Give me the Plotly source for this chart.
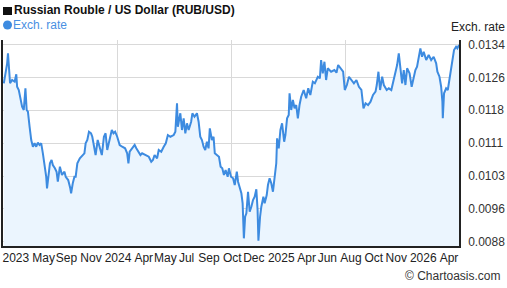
import pandas as pd
import plotly.graph_objects as go

start_date = "2023-04-14"
end_day = 1098

days = [2,10,12,14,17,22,28,32,34,38,41,46,50,54,57,60,64,68,72,76,80,84,88,92,96,100,104,106,109,113,
        117,120,125,129,132,137,142,148,151,157,162,164,168,172,175,179,185,191,196,199,203,207,212,215,219,223,228,233,238,243,
        247,251,255,262,266,270,275,281,287,294,299,302,305,311,317,321,327,331,335,343,351,357,361,365,371,375,381,
        387,392,397,403,411,415,419,421,427,431,435,439,443,447,453,456,461,467,471,475,479,483,487,491,495,498,503,507,
        510,514,520,524,528,532,536,541,544,549,554,558,563,566,570,574,577,580,583,586,590,594,598,602,606,610,613,615,
        619,622,627,630,635,638,642,646,650,654,658,660,664,668,672,677,680,684,688,690,694,698,702,706,710,714,718,
        724,730,735,740,746,751,758,763,766,770,774,778,782,790,798,803,807,814,819,823,828,833,839,845,851,857,863,
        868,873,879,885,891,897,900,904,908,913,917,924,929,935,940,945,949,953,957,961,965,969,973,979,984,988,993,
        997,1001,1005,1009,1013,1019,1025,1031,1037,1043,1046,1051,1055,1058,1059,1062,1067,1071,1075,1079,1083,1086,1091,1094,1098]

rates = [0.012494,0.01296,0.013193,0.012967,0.012494,0.012571,0.012531,0.012703,0.012414,0.012338,0.012181,0.011948,0.011872,0.012377,0.011872,0.011832,0.011482,0.011173,0.011016,0.011096,0.011016,0.01111,0.011056,0.011096,0.010863,0.01063,0.010317,0.010047,0.010317,0.01063,
         0.010707,0.01059,0.010513,0.010434,0.010201,0.01055,0.010357,0.010434,0.010317,0.01024,0.010047,0.009931,0.010164,0.010317,0.010317,0.01063,0.010746,0.010823,0.010863,0.011096,0.011173,0.011366,0.011329,0.011249,0.011016,0.010823,0.011173,0.010979,0.010823,0.011249,
         0.011329,0.01094,0.011096,0.011406,0.011329,0.011366,0.011249,0.011056,0.011016,0.010979,0.010863,0.01063,0.0109,0.010979,0.011056,0.010979,0.0109,0.010823,0.010863,0.010823,0.010783,0.010667,0.010707,0.010823,0.010746,0.01094,0.0109,
         0.011016,0.011096,0.011289,0.011249,0.011289,0.011366,0.012028,0.011482,0.011795,0.011406,0.011678,0.011329,0.011562,0.011406,0.011599,0.011795,0.011715,0.011795,0.011599,0.011249,0.011173,0.011016,0.01094,0.011133,0.010979,0.011445,0.011173,0.011249,
         0.010863,0.010823,0.010783,0.01055,0.010513,0.010357,0.010474,0.010317,0.010513,0.010317,0.01028,0.010124,0.010434,0.010201,0.010047,0.009931,0.009698,0.008882,0.009385,0.009465,0.009968,0.009502,0.009618,0.009775,0.009851,0.010024,0.009542,0.008826,
         0.009385,0.009618,0.009851,0.009698,0.009891,0.010124,0.01028,0.010164,0.009968,0.010357,0.01063,0.011212,0.010979,0.011406,0.011562,0.011133,0.011289,0.011678,0.011755,0.012261,0.011872,0.012105,0.011911,0.011988,0.011678,0.011988,0.012181,
         0.012338,0.012144,0.012377,0.012221,0.012531,0.012494,0.012647,0.01261,0.013037,0.012727,0.012997,0.012571,0.012843,0.012764,0.012804,0.012741,0.01292,0.012843,0.012764,0.012338,0.012454,0.012647,0.012571,0.012494,0.012571,0.012414,0.012338,
         0.011911,0.012028,0.011988,0.012065,0.012221,0.012298,0.012454,0.012764,0.012338,0.012647,0.012454,0.012338,0.012377,0.012338,0.012571,0.012804,0.01292,0.013193,0.012843,0.012494,0.012804,0.012454,0.012843,0.012727,0.012414,0.012571,0.012804,
         0.01288,0.013113,0.013309,0.013113,0.01323,0.013037,0.013153,0.013037,0.013113,0.01296,0.012764,0.012647,0.012414,0.012065,0.011678,0.012261,0.012377,0.012338,0.012571,0.01288,0.013113,0.01327,0.013346,0.013309,0.013386]

tick_days = [31,98,153,212,277,339,391,442,496,552,604,670,731,781,838,893,947,1012,1074]
tick_labels = ["2023","May","Sep","Nov","2024","Apr","May","Jul","Sep","Oct","Dec","2025","Apr","Jun","Aug","Oct","Nov","2026","Apr"]

y_tick_vals = [0.0088 + i * (0.0134 - 0.0088) / 6 for i in range(7)]
y_tick_text = ["0.0088","0.0096","0.0103","0.0111","0.0118","0.0126","0.0134"]

t0 = pd.Timestamp(start_date)
dates = [t0 + pd.Timedelta(days=d) for d in days]
tick_dates = [t0 + pd.Timedelta(days=d) for d in tick_days]
grid_dates = [t0 + pd.Timedelta(days=end_day * k / 4) for k in (1, 2, 3)]
x_end = t0 + pd.Timedelta(days=end_day)

FONT = "Arial, Liberation Sans, sans-serif"
LINE = "#3d8be0"

fig = go.Figure()
fig.add_trace(go.Scatter(
    x=dates, y=rates, mode="lines",
    line=dict(color=LINE, width=2),
    fill="tozeroy", fillcolor="#ebf5fe",
    hoverinfo="skip", showlegend=False,
))

fig.update_layout(
    width=507, height=288,
    margin=dict(l=1, r=48, t=40, b=42),
    paper_bgcolor="white", plot_bgcolor="white",
    font=dict(family=FONT, size=12, color="#222"),
    xaxis=dict(
        range=[t0, x_end],
        tickmode="array", tickvals=tick_dates, ticktext=tick_labels,
        tickangle=0,
        showgrid=False, ticks="",
        showline=True, linecolor="#222", linewidth=1.5,
        tickfont=dict(size=12, color="#222"),
        minor=dict(tickmode="array", tickvals=grid_dates, showgrid=True,
                   gridcolor="#d9d9d9", gridwidth=1, ticks=""),
        zeroline=False,
    ),
    yaxis=dict(
        side="right",
        range=[0.008703, 0.013503],
        tickmode="array", tickvals=y_tick_vals, ticktext=y_tick_text,
        showgrid=True, gridcolor="#d9d9d9", gridwidth=1,
        ticks="", ticklabelstandoff=5,
        showline=True, mirror=True, linecolor="#222", linewidth=1.5,
        tickfont=dict(size=12, color="#333"),
        zeroline=False,
    ),
    shapes=[
        dict(type="rect", xref="paper", yref="paper", xsizemode="pixel", ysizemode="pixel",
             xanchor=0, yanchor=1, x0=0, x1=9, y0=25, y1=33,
             fillcolor="#111", line=dict(width=0)),
        dict(type="circle", xref="paper", yref="paper", xsizemode="pixel", ysizemode="pixel",
             xanchor=0, yanchor=1, x0=0, x1=9, y0=10.5, y1=19.5,
             fillcolor=LINE, line=dict(width=0)),
    ],
    annotations=[
        dict(xref="paper", yref="paper", x=0, y=1, xanchor="left", yanchor="bottom",
             text="<b>Russian Rouble / US Dollar (RUB/USD)</b>", showarrow=False,
             font=dict(size=12, color="#111", family=FONT), yshift=21, xshift=9),
        dict(xref="paper", yref="paper", x=0, y=1, xanchor="left", yanchor="bottom",
             text="Exch. rate",
             showarrow=False, font=dict(size=12, color="#4a90e2", family=FONT), yshift=6, xshift=8),
        dict(xref="paper", yref="paper", x=1, y=1, xanchor="left", yanchor="bottom",
             text="Exch. rate", showarrow=False,
             font=dict(size=12, color="#222", family=FONT), yshift=4, xshift=-10),
        dict(xref="paper", yref="paper", x=1, y=0, xanchor="right", yanchor="top",
             text="© Chartoasis.com", showarrow=False,
             font=dict(size=12, color="#333", family=FONT), yshift=-21, xshift=44),
    ],
)

fig.write_html("out.html")
